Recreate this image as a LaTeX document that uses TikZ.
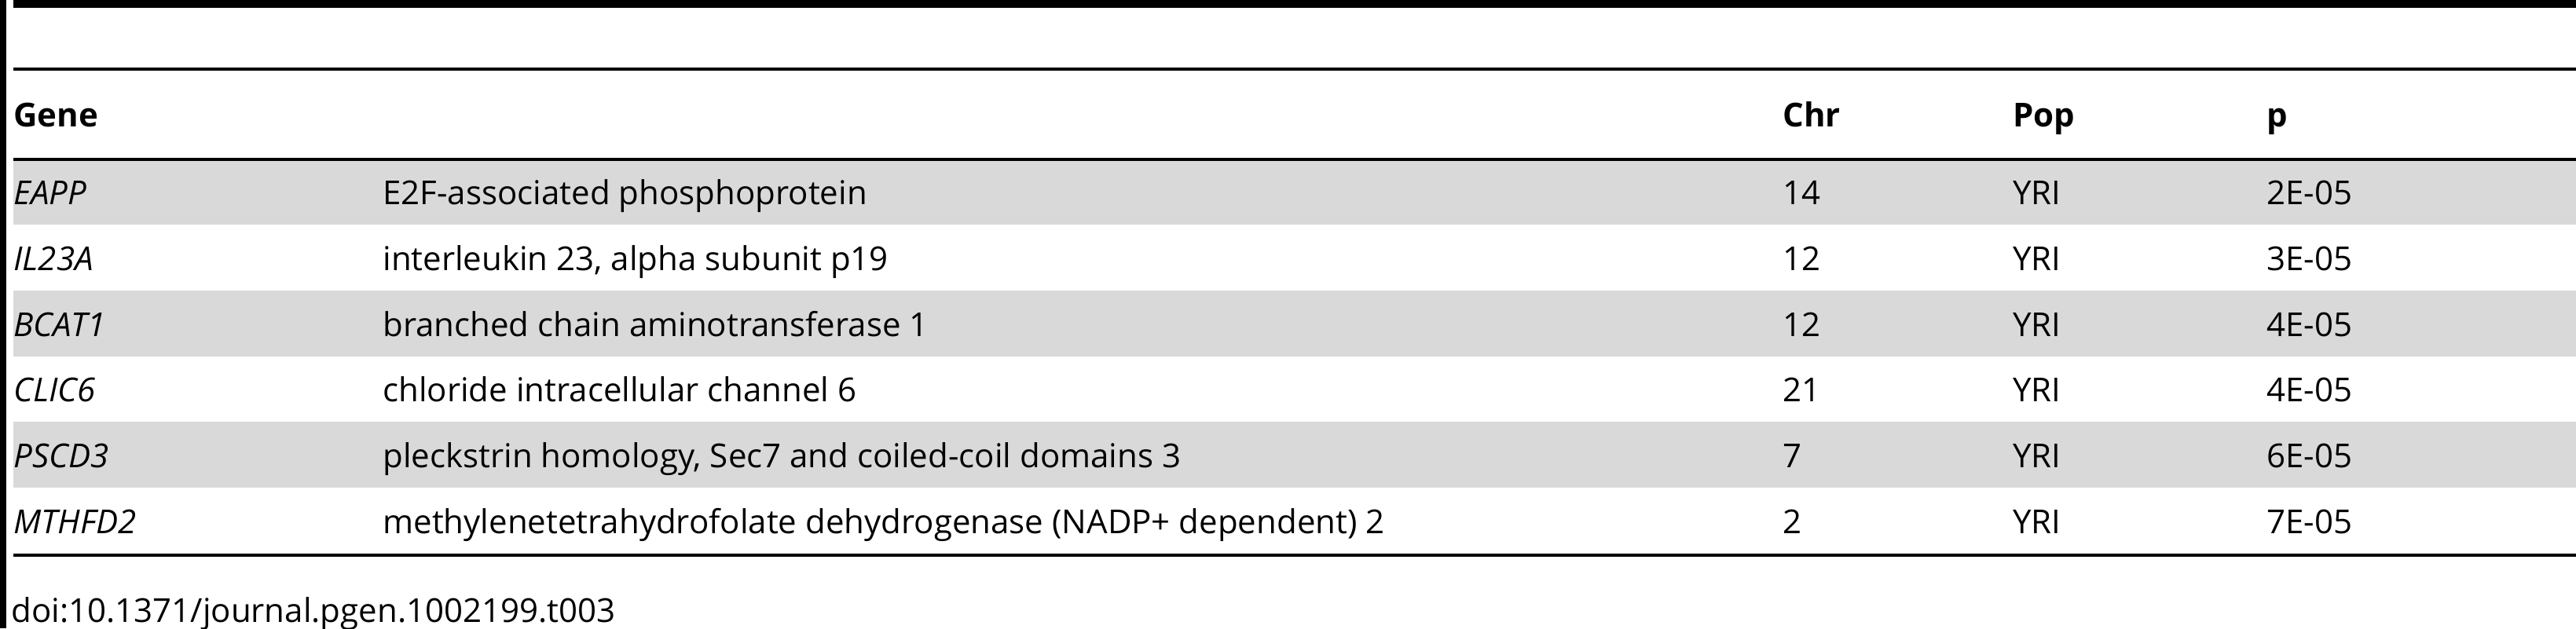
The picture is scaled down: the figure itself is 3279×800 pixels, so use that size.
\documentclass[tikz,border=0pt]{standalone}
\usepackage{fontspec}
\setmainfont{Open Sans}
\usepackage{tikz}
\definecolor{rowgray}{HTML}{D9D9D9}

\begin{document}
\begin{tikzpicture}[x=0.5pt,y=-0.5pt,
    every node/.style={anchor=base west,inner sep=0pt,font=\fontsize{21}{25}\selectfont},
    head/.style={font=\fontsize{21}{25}\selectfont\bfseries},
    gene/.style={font=\fontsize{21}{25}\selectfont\itshape}
]
    \useasboundingbox (0,0) rectangle (3279,800);
    % shaded rows
    \fill[rowgray] (17,205) rectangle (3279,286);
    \fill[rowgray] (17,370) rectangle (3279,454);
    \fill[rowgray] (17,537) rectangle (3279,621);
    % rules
    \fill[black] (0,0) rectangle (8,800);
    \fill[black] (17,0) rectangle (3279,10);
    \draw[line width=2pt] (17,88) -- (3279,88);
    \draw[line width=2pt] (17,203) -- (3279,203);
    \draw[line width=2pt] (17,707) -- (3279,707);
    % header
    \node[head] (hgene) at (17,161) {Gene};
    \node[head] (hchr) at (2269,161) {Chr};
    \node[head] (hpop) at (2562,161) {Pop};
    \node[head] (hp) at (2885,161) {p};
    % rows
    \foreach \g/\d/\c/\v [count=\i] in {
        EAPP/E2F-associated phosphoprotein/14/2E-05,
        IL23A/{interleukin 23, alpha subunit p19}/12/3E-05,
        BCAT1/branched chain aminotransferase 1/12/4E-05,
        CLIC6/chloride intracellular channel 6/21/4E-05,
        PSCD3/{pleckstrin homology, Sec7 and coiled-coil domains 3}/7/6E-05,
        MTHFD2/methylenetetrahydrofolate dehydrogenase (NADP+ dependent) 2/2/7E-05}
    {
        \node[gene] (g\i) at (17,{177+83.7*\i}) {\g};
        \node (d\i) at (487,{177+83.7*\i}) {\d};
        \node (c\i) at (2269,{177+83.7*\i}) {\c};
        \node (pop\i) at (2562,{177+83.7*\i}) {YRI};
        \node (p\i) at (2885,{177+83.7*\i}) {\v};
    }
    \node (doi) at (14,792) {doi:10.1371/journal.pgen.1002199.t003};
\end{tikzpicture}
\end{document}
